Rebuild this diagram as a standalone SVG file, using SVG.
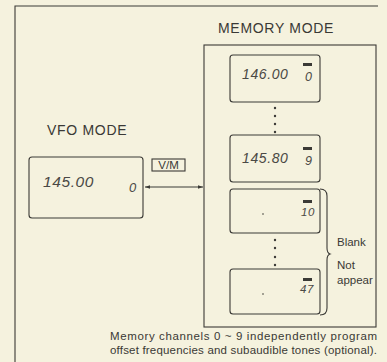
<svg xmlns="http://www.w3.org/2000/svg" width="387" height="362" viewBox="0 0 387 362">
<defs>
<style>
.ln{fill:none;stroke:#3b3a36;stroke-width:1.1}
.lcd{fill:none;stroke:#3b3a36;stroke-width:1.1}
.ttl{font-family:"Liberation Sans",Arial,sans-serif;font-size:14px;fill:#3a3935;letter-spacing:0.7px}
.seg{font-family:"Liberation Sans",Arial,sans-serif;font-style:italic;fill:#4a4945;letter-spacing:0.6px}
.lab{font-family:"Liberation Sans",Arial,sans-serif;font-size:11.5px;fill:#3a3935}
.dot{fill:#3b3a36}
.mr{fill:#3b3a36}
</style>
<marker id="ah" viewBox="0 0 10 10" refX="10" refY="5" markerWidth="7" markerHeight="5" orient="auto-start-reverse" markerUnits="userSpaceOnUse">
<path d="M0,1.5 L10,5 L0,8.5 Z" fill="#3b3a36"/>
</marker>
</defs>
<rect width="387" height="362" fill="#f5f2de"/>
<g id="frame">
<path class="ln" d="M15,362 L15,6 L378,6"/>
</g>
<text class="ttl" x="218" y="33">MEMORY MODE</text>
<text class="ttl" x="47" y="135">VFO MODE</text>
<g id="vfo-display">
<rect class="lcd" x="29" y="157" width="114" height="61" rx="3"/>
<text class="seg" x="43" y="187" font-size="15.5">145.00</text>
<text class="seg" x="129" y="192" font-size="13">0</text>
</g>
<g id="memory-mode">
<rect class="ln" x="204" y="45" width="172" height="282"/>
</g>
<g id="mem-ch0">
<rect class="lcd" x="230" y="55" width="90" height="47" rx="3"/>
<text class="seg" x="242" y="79" font-size="14">146.00</text>
<rect class="mr" x="303" y="63" width="9" height="3"/>
<text class="seg" x="305" y="81" font-size="12.5">0</text>
</g>
<g id="mem-ch9">
<rect class="lcd" x="230" y="135" width="90" height="47" rx="3"/>
<text class="seg" x="242" y="163" font-size="14">145.80</text>
<rect class="mr" x="303" y="147" width="9" height="3"/>
<text class="seg" x="305" y="165" font-size="12.5">9</text>
</g>
<g id="mem-ch10">
<rect class="lcd" x="230" y="189" width="90" height="44" rx="3"/>
<circle class="dot" cx="263" cy="214" r="0.8"/>
<rect class="mr" x="303" y="200" width="9" height="3"/>
<text class="seg" x="301" y="216" font-size="11.5">10</text>
</g>
<g id="mem-ch47">
<rect class="lcd" x="230" y="269" width="90" height="45" rx="3"/>
<circle class="dot" cx="263" cy="294" r="0.8"/>
<rect class="mr" x="303" y="278" width="9" height="3"/>
<text class="seg" x="300" y="293" font-size="11.5">47</text>
</g>
<g id="connectors">
<line class="ln" x1="145" y1="187" x2="203" y2="187" marker-start="url(#ah)" marker-end="url(#ah)"/>
<g class="dot">
<circle cx="275" cy="108" r="1.2"/><circle cx="275" cy="116" r="1.2"/><circle cx="275" cy="124" r="1.2"/><circle cx="275" cy="132" r="1.2"/>
<circle cx="275" cy="240" r="1.2"/><circle cx="275" cy="248" r="1.2"/><circle cx="275" cy="257" r="1.2"/><circle cx="275" cy="265" r="1.2"/>
</g>
<path class="ln" d="M320,189 Q327,189 327,196 L327,248 Q327,253 330,254 Q327,255 327,260 L327,308 Q327,315 320,315"/>
</g>
<g id="vm-key">
<rect class="ln" x="152" y="159" width="33" height="12"/>
<text class="lab" x="168.5" y="169" font-size="10.5" text-anchor="middle">V/M</text>
</g>
<text class="lab" x="337" y="246">Blank</text>
<text class="lab" x="337" y="269">Not</text>
<text class="lab" x="337" y="284">appear</text>
<text class="lab" x="110" y="340" textLength="267">Memory channels 0 ~ 9 independently program</text>
<text class="lab" x="110" y="354" textLength="267">offset frequencies and subaudible tones (optional).</text>
</svg>
